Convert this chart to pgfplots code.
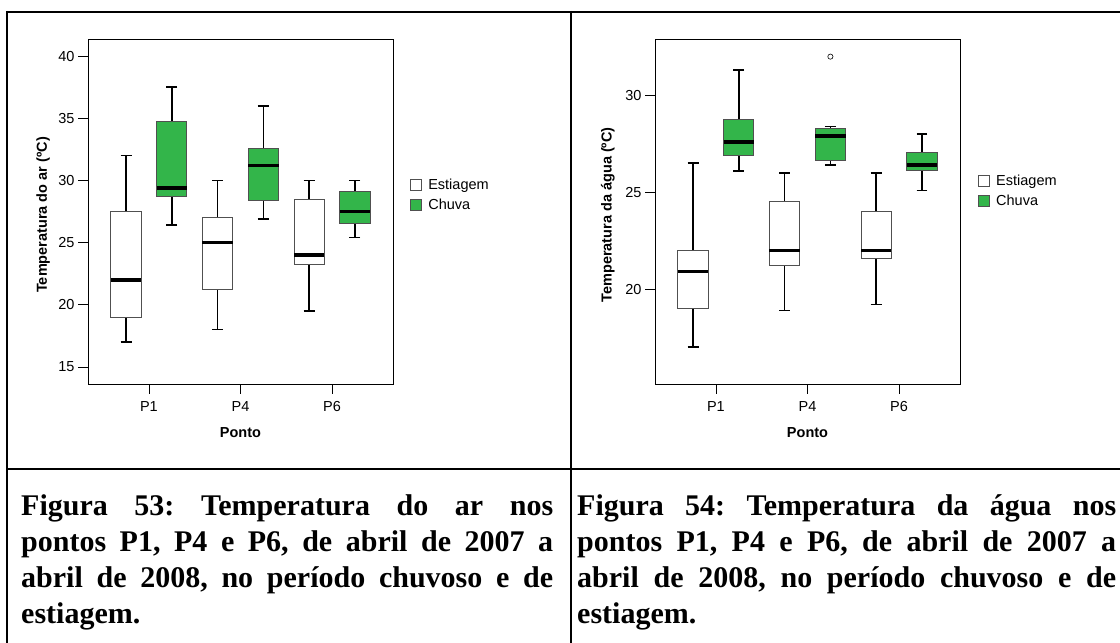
\documentclass[border=0pt]{standalone}
\usepackage{pgfplots}
\pgfplotsset{compat=1.18}
\usepgfplotslibrary{statistics}
\usepackage{fontspec}
\setmainfont{Liberation Sans}
\newfontfamily\capfont{Liberation Serif}
\definecolor{chuva}{RGB}{51,181,74}
\definecolor{boxgray}{RGB}{80,80,80}
\frenchspacing
\pgfplotsset{
  common/.style={
    scale only axis, width=305pt, height=345pt, anchor=south west,
    xmin=0.335, xmax=3.665, xtick={1,2,3}, xticklabels={P1,P4,P6},
    tick align=outside, major tick length=10pt,
    xtick pos=left, ytick pos=left,
    tick style={black, line width=0.8pt},
    axis line style={line width=0.8pt},
    ticklabel style={font=\fontsize{14.5}{16}\selectfont},
    xticklabel style={yshift=-4pt},
    /pgf/number format/assume math mode=true,
    label style={font=\bfseries\fontsize{14.5}{16}\selectfont},
    xlabel={Ponto},
    xlabel style={at={(axis description cs:0.5,-0.141)}, anchor=center},
    boxplot/draw direction=y,
    boxplot/box extend=0.33, boxplot/whisker extend=0.12,
    boxplot/every box/.style={draw=boxgray, line width=1pt},
    boxplot/every whisker/.style={draw=black, line width=1.5pt},
    boxplot/every median/.style={draw=black, line width=3.5pt},
    legend style={draw=none, fill=none, anchor=west, font=\fontsize{14.5}{16}\selectfont,
      row sep=4pt, column sep=4pt, inner sep=0pt, nodes={inner sep=2pt}},
    legend cell align=left,
  },
  est/.style={fill=white, draw=boxgray, forget plot},
  chv/.style={fill=chuva, draw=boxgray, forget plot},
}
\begin{document}
\begin{tikzpicture}
\useasboundingbox (0pt,0pt) rectangle (1120pt,643pt);
\fill[white] (0pt,0pt) rectangle (1120pt,643pt);
\draw[line width=2pt] (6pt,631pt) -- (1130pt,631pt);
\draw[line width=2pt] (7pt,632pt) -- (7pt,-5pt);
\draw[line width=2pt] (571pt,632pt) -- (571pt,-5pt);
\draw[line width=2pt] (6pt,174pt) -- (1130pt,174pt);

% Chart 1: air temperature
\begin{axis}[common, at={(88pt,259pt)},
  ymin=13.63, ymax=41.37, ytick={15,20,25,30,35,40},
  ylabel={Temperatura do ar (ºC)},
  ylabel style={at={(axis description cs:-0.1475,0.49)}, anchor=center},
  legend style={at={(1.056,0.548)}}]
\addplot[est, boxplot prepared={draw position=0.75, lower whisker=17, lower quartile=19, median=22, upper quartile=27.5, upper whisker=32}] coordinates {};
\addplot[chv, boxplot prepared={draw position=1.25, lower whisker=26.4, lower quartile=28.7, median=29.4, upper quartile=34.75, upper whisker=37.5}] coordinates {};
\addplot[est, boxplot prepared={draw position=1.75, lower whisker=18, lower quartile=21.2, median=25, upper quartile=27, upper whisker=30}] coordinates {};
\addplot[chv, boxplot prepared={draw position=2.25, lower whisker=26.9, lower quartile=28.4, median=31.2, upper quartile=32.6, upper whisker=36}] coordinates {};
\addplot[est, boxplot prepared={draw position=2.75, lower whisker=19.5, lower quartile=23.2, median=24, upper quartile=28.5, upper whisker=30}] coordinates {};
\addplot[chv, boxplot prepared={draw position=3.25, lower whisker=25.4, lower quartile=26.55, median=27.5, upper quartile=29.1, upper whisker=30}] coordinates {};
\addlegendimage{legend image code/.code={\draw[fill=white,draw=boxgray,line width=1pt] (0pt,-5.5pt) rectangle (11pt,5.5pt);}}
\addlegendentry{Estiagem}
\addlegendimage{legend image code/.code={\draw[fill=chuva,draw=boxgray,line width=1pt] (0pt,-5.5pt) rectangle (11pt,5.5pt);}}
\addlegendentry{Chuva}
\end{axis}

% Chart 2: water temperature
\begin{axis}[common, at={(655pt,259pt)},
  ymin=15.1, ymax=32.91, ytick={20,25,30},
  ylabel={Temperatura da água (ºC)},
  ylabel style={at={(axis description cs:-0.155,0.49)}, anchor=center},
  legend style={at={(1.059,0.559)}}]
\addplot[est, boxplot prepared={draw position=0.75, lower whisker=17, lower quartile=19, median=20.9, upper quartile=22, upper whisker=26.5}] coordinates {};
\addplot[chv, boxplot prepared={draw position=1.25, lower whisker=26.1, lower quartile=26.87, median=27.6, upper quartile=28.76, upper whisker=31.3}] coordinates {};
\addplot[est, boxplot prepared={draw position=1.75, lower whisker=18.9, lower quartile=21.2, median=22, upper quartile=24.5, upper whisker=26}] coordinates {};
\addplot[chv, mark=o, mark size=2.6pt, mark options={draw=black, fill=white, line width=0.6pt},
  boxplot prepared={draw position=2.25, lower whisker=26.4, lower quartile=26.65, median=27.9, upper quartile=28.3, upper whisker=28.4}] coordinates {(0,32)};
\addplot[est, boxplot prepared={draw position=2.75, lower whisker=19.2, lower quartile=21.6, median=22, upper quartile=24, upper whisker=26}] coordinates {};
\addplot[chv, boxplot prepared={draw position=3.25, lower whisker=25.1, lower quartile=26.1, median=26.4, upper quartile=27.05, upper whisker=28}] coordinates {};
\addlegendimage{legend image code/.code={\draw[fill=white,draw=boxgray,line width=1pt] (0pt,-5.5pt) rectangle (11pt,5.5pt);}}
\addlegendentry{Estiagem}
\addlegendimage{legend image code/.code={\draw[fill=chuva,draw=boxgray,line width=1pt] (0pt,-5.5pt) rectangle (11pt,5.5pt);}}
\addlegendentry{Chuva}
\end{axis}

% Captions
\node[anchor=base west, text width=532pt, align=justify, inner sep=0pt,
  font=\capfont\bfseries\fontsize{30}{36}\selectfont] at (21pt,127pt)
  {\tolerance=10000\hbadness=10000 Figura 53: Temperatura do ar nos\linebreak pontos P1, P4 e P6, de abril de 2007 a\linebreak abril de 2008, no período chuvoso e de\linebreak estiagem.};
\node[anchor=base west, text width=539pt, align=justify, inner sep=0pt,
  font=\capfont\bfseries\fontsize{30}{36}\selectfont] at (577pt,127pt)
  {\tolerance=10000\hbadness=10000 Figura 54: Temperatura da água nos\linebreak pontos P1, P4 e P6, de abril de 2007 a\linebreak abril de 2008, no período chuvoso e de\linebreak estiagem.};
\end{tikzpicture}
\end{document}
